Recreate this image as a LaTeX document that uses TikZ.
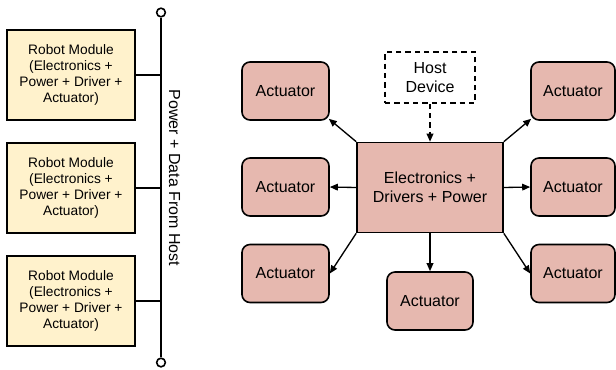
\documentclass[tikz,border=0pt]{standalone}
\usepackage{fontspec}
\setmainfont{Liberation Sans}
\usetikzlibrary{arrows.meta}
\definecolor{modfill}{HTML}{FFF2CC}
\definecolor{actfill}{HTML}{E6B8AF}
\begin{document}
\begin{tikzpicture}[x=0.75pt,y=-0.75pt,
  modbox/.style={draw=black,line width=1.2pt,fill=modfill,minimum width=128*0.75pt,minimum height=90*0.75pt,inner sep=0pt,align=center,font=\fontsize{10.3}{12}\selectfont},
  actbox/.style={draw=black,line width=1.2pt,fill=actfill,rounded corners=6pt,minimum width=87*0.75pt,minimum height=58*0.75pt,inner sep=0pt,align=center,font=\fontsize{12}{14}\selectfont},
  corebox/.style={draw=black,line width=1.2pt,fill=actfill,minimum width=146*0.75pt,minimum height=90*0.75pt,inner sep=0pt,align=center,font=\fontsize{12}{14}\selectfont},
  hostbox/.style={draw=black,line width=1.2pt,dash pattern=on 4pt off 3pt,fill=white,minimum width=90*0.75pt,minimum height=51*0.75pt,inner sep=0pt,align=center,font=\fontsize{12}{14}\selectfont},
  buswire/.style={line width=1.3pt},
  term/.style={circle,draw=black,line width=1.2pt,fill=white,minimum size=6.5pt,inner sep=0pt},
  arr/.style={line width=1pt,-{Triangle[length=6pt,width=5pt]}},
  darr/.style={line width=1pt,dash pattern=on 4pt off 3pt,-{Triangle[length=6pt,width=5pt]}}
]
\useasboundingbox (0,0) rectangle (616,369);
% left: bus
\node[term] (bt) at (161,12.5) {};
\node[term] (bb) at (161,362.5) {};
\draw[buswire] (bt.south) -- (bb.north);
\node[modbox] (m1) at (71,75) {Robot Module\\(Electronics +\\Power + Driver +\\Actuator)};
\node[modbox] (m2) at (71,188) {Robot Module\\(Electronics +\\Power + Driver +\\Actuator)};
\node[modbox] (m3) at (71,301) {Robot Module\\(Electronics +\\Power + Driver +\\Actuator)};
\draw[buswire] (m1.east) -- (m1.east -| bt);
\draw[buswire] (m2.east) -- (m2.east -| bt);
\draw[buswire] (m3.east) -- (m3.east -| bt);
\node[rotate=-90,font=\fontsize{12}{14}\selectfont,inner sep=0pt] (lbl) at (174.5,178) {Power + Data From Host};
% right
\node[hostbox] (host) at (430,77.5) {Host\\Device};
\node[corebox] (core) at (430,187.5) {Electronics +\\Drivers + Power};
\node[actbox] (a1) at (285.5,91) {Actuator};
\node[actbox,minimum width=84*0.75pt] (a2) at (573,91) {Actuator};
\node[actbox] (a3) at (285.5,187) {Actuator};
\node[actbox,minimum width=84*0.75pt] (a4) at (573,187) {Actuator};
\node[actbox] (a5) at (285.5,273.5) {Actuator};
\node[actbox,minimum width=84*0.75pt] (a6) at (573,273.5) {Actuator};
\node[actbox,minimum width=86*0.75pt] (a7) at (430,301) {Actuator};
\draw[darr] (host.south) -- (core.north);
\draw[arr] (core.north west) -- ([shift={(-1,-2)}]a1.south east);
\draw[arr] (core.north east) -- ([shift={(1,-2)}]a2.south west);
\draw[arr] (core.west) -- (a3.east);
\draw[arr] (core.east) -- (a4.west);
\draw[arr] (core.south west) -- (a5.east);
\draw[arr] (core.south east) -- (a6.west);
\draw[arr] (core.south) -- (a7.north);
\end{tikzpicture}
\end{document}
